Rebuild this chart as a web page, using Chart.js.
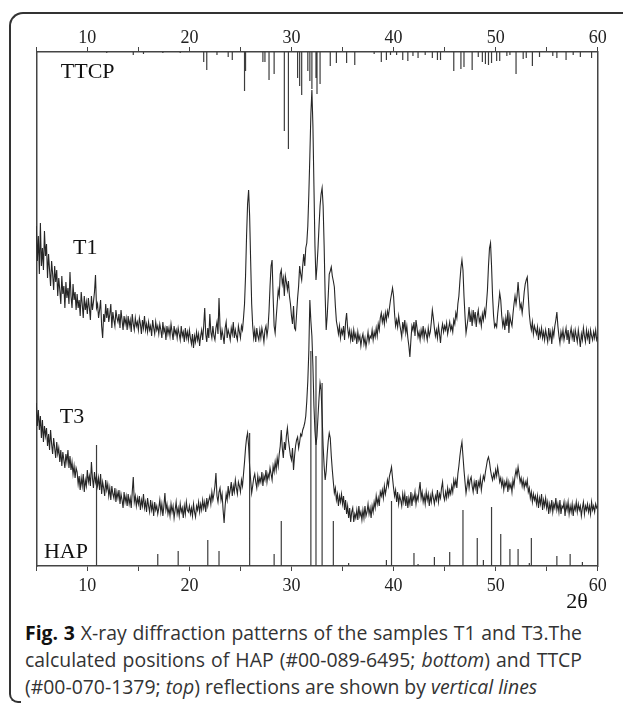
<!DOCTYPE html>
<html>
<head>
<meta charset="utf-8">
<script src="https://cdn.jsdelivr.net/npm/chart.js@4.4.1/dist/chart.umd.min.js"></script>
<style>
  html, body { margin: 0; padding: 0; background: #fff; width: 623px; height: 705px; overflow: hidden; }
  #wrap { position: relative; width: 623px; height: 705px; }
  #c { position: absolute; left: 0; top: 0; }
  #frame { position: absolute; left: 9px; top: 12px; width: 660px; height: 680px;
           border-top: 2px solid #333; border-left: 2px solid #333; border-top-left-radius: 14px; }
  #frameBottom { position: absolute; left: 9px; top: 680px; width: 10px; height: 21px;
           border-left: 2px solid #333; border-bottom: 2px solid #333; border-bottom-left-radius: 9px; }
  #cap { position: absolute; left: 25px; top: 619px; width: 557px; font-family: "Open Sans", sans-serif;
         font-size: 19.4px; line-height: 27px; color: #333; }
  #cap div { white-space: nowrap; }
  #cap .j { text-align: justify; text-align-last: justify; }
  #cap b { color: #111; }
</style>
</head>
<body>
<div id="wrap">
  <div id="frame"></div>
  <div id="frameBottom"></div>
  <canvas id="c" width="623" height="615"></canvas>
  <div id="cap">
    <div class="j"><b>Fig. 3</b> X-ray diffraction patterns of the samples T1 and T3.The</div>
    <div class="j">calculated positions of HAP (#00-089-6495; <i>bottom</i>) and TTCP</div>
    <div>(#00-070-1379; <i>top</i>) reflections are shown by <i>vertical lines</i></div>
  </div>
</div>
<script>
// 2θ sampling positions (degrees)
const twoTheta = [
  5,5.1,5.2,5.3,5.4,5.5,5.6,5.7,5.8,5.9, 6,6.1,6.2,6.3,6.4,6.5,6.6,6.7,6.8,6.9,
  7,7.1,7.2,7.3,7.4,7.5,7.6,7.7,7.8,7.9, 8,8.1,8.2,8.3,8.4,8.5,8.6,8.7,8.8,8.9,
  9,9.1,9.2,9.3,9.4,9.5,9.6,9.7,9.8,9.9, 10,10.1,10.2,10.3,10.4,10.5,10.6,10.7,10.8,10.9,
  11,11.1,11.2,11.3,11.4,11.5,11.6,11.7,11.8,11.9, 12,12.1,12.2,12.3,12.4,12.5,12.6,12.7,12.8,12.9,
  13,13.1,13.2,13.3,13.4,13.5,13.6,13.7,13.8,13.9, 14,14.1,14.2,14.3,14.4,14.5,14.6,14.7,14.8,14.9,
  15,15.1,15.2,15.3,15.4,15.5,15.6,15.7,15.8,15.9, 16,16.1,16.2,16.3,16.4,16.5,16.6,16.7,16.8,16.9,
  17,17.1,17.2,17.3,17.4,17.5,17.6,17.7,17.8,17.9, 18,18.1,18.2,18.3,18.4,18.5,18.6,18.7,18.8,18.9,
  19,19.1,19.2,19.3,19.4,19.5,19.6,19.7,19.8,19.9, 20,20.1,20.2,20.3,20.4,20.5,20.6,20.7,20.8,20.9,
  21,21.1,21.2,21.3,21.4,21.5,21.6,21.7,21.8,21.9, 22,22.1,22.2,22.3,22.4,22.5,22.6,22.7,22.8,22.9,
  23,23.1,23.2,23.3,23.4,23.5,23.6,23.7,23.8,23.9, 24,24.1,24.2,24.3,24.4,24.5,24.6,24.7,24.8,24.9,
  25,25.1,25.2,25.3,25.4,25.5,25.6,25.7,25.8,25.9, 26,26.1,26.2,26.3,26.4,26.5,26.6,26.7,26.8,26.9,
  27,27.1,27.2,27.3,27.4,27.5,27.6,27.7,27.8,27.9, 28,28.1,28.2,28.3,28.4,28.5,28.6,28.7,28.8,28.9,
  29,29.1,29.2,29.3,29.4,29.5,29.6,29.7,29.8,29.9, 30,30.1,30.2,30.3,30.4,30.5,30.6,30.7,30.8,30.9,
  31,31.1,31.2,31.3,31.4,31.5,31.6,31.7,31.8,31.9, 32,32.1,32.2,32.3,32.4,32.5,32.6,32.7,32.8,32.9,
  33,33.1,33.2,33.3,33.4,33.5,33.6,33.7,33.8,33.9, 34,34.1,34.2,34.3,34.4,34.5,34.6,34.7,34.8,34.9,
  35,35.1,35.2,35.3,35.4,35.5,35.6,35.7,35.8,35.9, 36,36.1,36.2,36.3,36.4,36.5,36.6,36.7,36.8,36.9,
  37,37.1,37.2,37.3,37.4,37.5,37.6,37.7,37.8,37.9, 38,38.1,38.2,38.3,38.4,38.5,38.6,38.7,38.8,38.9,
  39,39.1,39.2,39.3,39.4,39.5,39.6,39.7,39.8,39.9, 40,40.1,40.2,40.3,40.4,40.5,40.6,40.7,40.8,40.9,
  41,41.1,41.2,41.3,41.4,41.5,41.6,41.7,41.8,41.9, 42,42.1,42.2,42.3,42.4,42.5,42.6,42.7,42.8,42.9,
  43,43.1,43.2,43.3,43.4,43.5,43.6,43.7,43.8,43.9, 44,44.1,44.2,44.3,44.4,44.5,44.6,44.7,44.8,44.9,
  45,45.1,45.2,45.3,45.4,45.5,45.6,45.7,45.8,45.9, 46,46.1,46.2,46.3,46.4,46.5,46.6,46.7,46.8,46.9,
  47,47.1,47.2,47.3,47.4,47.5,47.6,47.7,47.8,47.9, 48,48.1,48.2,48.3,48.4,48.5,48.6,48.7,48.8,48.9,
  49,49.1,49.2,49.3,49.4,49.5,49.6,49.7,49.8,49.9, 50,50.1,50.2,50.3,50.4,50.5,50.6,50.7,50.8,50.9,
  51,51.1,51.2,51.3,51.4,51.5,51.6,51.7,51.8,51.9, 52,52.1,52.2,52.3,52.4,52.5,52.6,52.7,52.8,52.9,
  53,53.1,53.2,53.3,53.4,53.5,53.6,53.7,53.8,53.9, 54,54.1,54.2,54.3,54.4,54.5,54.6,54.7,54.8,54.9,
  55,55.1,55.2,55.3,55.4,55.5,55.6,55.7,55.8,55.9, 56,56.1,56.2,56.3,56.4,56.5,56.6,56.7,56.8,56.9,
  57,57.1,57.2,57.3,57.4,57.5,57.6,57.7,57.8,57.9, 58,58.1,58.2,58.3,58.4,58.5,58.6,58.7,58.8,58.9,
  59,59.1,59.2,59.3,59.4,59.5,59.6,59.7,59.8,59.9, 60
];

// Intensity of sample T1 (arbitrary units, includes vertical offset)
const t1Intensity = [
  340,305,330,292,343,300,318,296,335,310, 322,288,312,296,280,305,292,276,300,284,
  296,270,288,276,262,290,272,280,258,284, 268,278,262,294,270,258,282,266,274,256,
  272,258,266,250,274,262,248,270,256,264, 252,268,258,246,270,256,264,274,291,258,
  262,248,256,266,240,228,252,244,262,248, 258,244,252,262,238,254,246,240,256,248,
  244,252,238,256,246,236,250,242,248,236, 250,240,246,234,252,242,236,248,240,244,
  236,248,242,232,246,238,250,236,242,234, 244,236,240,230,246,238,232,244,236,240,
  232,242,236,228,244,234,238,226,240,232, 238,230,242,234,226,240,232,236,228,238,
  232,226,240,230,234,224,238,228,234,226, 236,228,222,232,218,230,224,234,226,232,
  220,230,236,226,240,258,232,224,238,228, 252,234,228,240,230,226,238,244,232,268,
  240,226,236,230,222,238,244,228,236,232, 226,238,232,244,228,236,230,226,240,234,
  228,240,236,248,262,290,330,362,376,350, 305,262,240,228,236,224,238,230,226,236,
  228,238,232,224,236,240,230,238,255,280, 300,306,270,240,233,248,262,276,270,292,
  296,282,288,270,290,284,276,285,270,262, 250,242,260,238,236,252,268,280,300,292,
  286,300,312,300,318,323,340,372,410,452, 476,440,380,320,286,300,318,340,360,372,
  378,360,320,270,236,250,270,292,295,299, 290,285,279,260,245,239,232,240,228,236,
  232,240,226,244,253,238,230,236,226,234, 224,236,228,232,222,234,226,230,220,228,
  232,222,228,219,226,234,224,230,228,236, 226,234,229,238,230,242,236,248,253,244,
  250,242,253,246,255,250,258,266,272,278, 270,252,240,246,239,250,242,236,229,244,
  236,246,233,240,228,220,209,226,240,236, 244,230,246,238,229,234,226,236,230,240,
  228,236,232,226,238,230,234,244,256,248, 238,230,236,228,240,232,223,236,242,234,
  240,236,243,232,238,244,236,240,234,246, 242,253,248,262,270,285,298,306,296,270,
  250,233,240,248,259,244,252,240,256,246, 254,239,250,256,244,248,240,252,246,256,
  250,262,276,300,318,323,300,270,250,239, 242,239,252,262,273,266,250,240,246,236,
  248,240,256,233,250,244,240,252,262,270, 262,270,284,270,258,262,253,262,274,282,
  286,289,270,252,242,236,244,232,240,236, 232,239,226,236,230,238,228,234,226,236,
  230,224,238,228,234,222,236,230,240,246, 254,240,230,223,234,228,236,226,232,238,
  226,236,222,232,238,228,234,224,236,230, 224,236,228,219,232,226,238,230,224,236,
  228,234,222,236,230,226,234,228,236,226, 229
];

// Intensity of sample T3 (arbitrary units)
const t3Intensity = [
  163,140,156,136,150,128,146,124,140,130, 138,120,132,116,136,122,112,128,118,108,
  124,112,118,104,116,100,114,106,98,112, 104,116,98,110,96,104,92,100,88,98,
  94,82,90,76,88,80,92,74,86,80, 96,84,90,80,104,88,78,94,84,90,
  80,88,76,92,72,84,78,70,86,76, 82,70,78,66,80,72,68,78,64,74,
  68,76,62,72,66,58,74,64,70,60, 72,62,68,58,74,89,64,70,60,68,
  62,70,56,66,60,72,58,64,54,68, 60,54,66,56,62,50,64,56,60,52,
  58,66,54,62,50,60,73,56,62,52, 58,50,62,54,60,48,56,64,52,58,
  50,62,54,58,48,60,52,64,56,54, 60,52,58,50,62,54,49,60,56,64,
  54,62,56,66,58,64,54,68,60,66, 70,62,74,66,72,80,93,70,64,74,
  78,66,72,56,43,60,72,66,80,70, 76,84,70,80,74,86,78,72,84,80,
  74,86,80,92,104,118,128,133,120,100, 86,73,80,88,92,84,78,90,82,88,
  84,94,80,90,86,96,84,92,88,98, 92,86,100,94,104,96,108,100,112,120,
  136,118,108,124,116,130,138,126,118,110, 106,118,96,110,120,126,129,118,124,132,
  130,136,139,143,150,165,185,215,266,245, 230,200,160,135,121,130,150,168,183,176,
  150,120,100,86,95,112,125,133,128,110, 96,84,73,78,66,72,60,70,64,72,
  62,70,56,66,52,60,48,58,44,54, 58,44,52,48,56,46,60,50,54,46,
  56,48,60,50,54,62,52,58,48,60, 54,64,58,70,62,68,60,74,70,76,
  68,80,72,78,86,80,90,94,99,88, 78,70,76,64,74,62,70,66,60,72,
  64,72,60,70,58,68,62,74,60,70, 66,74,62,70,66,76,84,68,74,64,
  70,62,74,66,72,60,70,64,74,68, 62,70,66,76,64,72,68,78,84,70,
  66,74,68,78,70,76,72,80,74,86, 80,86,78,92,100,110,118,124,110,96,
  84,73,80,88,78,86,89,80,74,84, 78,86,72,84,80,88,76,84,90,86,
  94,100,106,109,104,96,90,86,92,88, 96,90,99,92,84,88,80,86,76,84,
  80,86,74,84,78,82,74,86,80,90, 96,90,99,92,84,88,80,86,78,84,
  80,86,74,78,68,74,64,72,66,70, 62,70,58,68,62,72,56,66,60,68,
  58,64,52,62,56,66,54,62,58,68, 56,62,54,66,52,60,58,64,50,62,
  56,64,52,60,54,62,50,60,56,64, 54,62,56,60,50,58,64,52,60,56,
  62,54,60,52,64,56,60,54,62,58, 60
];

// HAP reference reflections (#00-089-6495): positions and heights
const hapPositions = [10.9,16.9,18.9,21.8,22.9,25.9,28.3,29.0,31.9,32.4,33.0,34.1,35.6,39.3,39.8,42.0,42.4,44.0,45.5,46.8,48.2,48.8,49.6,50.5,51.4,52.2,53.3,53.5,56.0,57.3,58.5];
const hapHeights   = [121,12,15,26,15,133,12,45,215,210,183,45,3,6,65,13,2,9,14,56,28,6,59,32,17,17,3,28,10,12,4];

// TTCP reference reflections (#00-070-1379): positions and heights (drawn down from the top)
const ttcpPositions = [11.9,14.5,15.5,17.4,19.1,21.4,21.7,22.7,23.8,24.2,25.4,25.5,27.2,27.4,27.8,28.3,29.3,29.7,30.6,30.8,31.0,31.6,31.8,32.0,32.4,32.5,32.8,33.8,34.4,35.4,36.2,38.1,38.8,39.3,39.7,40.3,40.9,41.4,41.9,42.4,43.1,43.8,44.3,44.6,45.9,46.6,46.9,47.7,48.3,48.7,49.0,49.3,49.6,50.1,50.4,51.1,51.4,52.0,52.7,53.0,53.6,54.3,55.6,56.0,56.9,57.6,58.3,59.4];
const ttcpHeights   = [1,3,2,1,1,10,18,3,5,8,39,19,10,10,28,22,79,97,26,34,43,19,29,37,26,42,32,14,11,11,13,2,10,8,3,3,8,9,4,6,3,6,8,8,19,17,15,18,5,10,12,13,11,9,9,4,3,22,7,6,14,5,4,6,8,3,5,6];

// Axis ranges and tick labels
const xMin = 5, xMax = 60, xTickStep = 5;
const xTickLabels = [10, 20, 30, 40, 50, 60];
const yMin = 0, yMax = 514;

// Series labels placed in data coordinates
const seriesLabels = [
  { text: 'TTCP', x: 7.4, y: 488 },
  { text: 'T1',   x: 8.6, y: 312 },
  { text: 'T3',   x: 7.3, y: 143 },
  { text: 'HAP',  x: 5.75, y: 8 }
];

function stickData(pos, h, fromTop) {
  const out = [];
  pos.forEach((p, i) => {
    if (fromTop) {
      out.push({ x: p, y: yMax }, { x: p, y: yMax - h[i] }, { x: p, y: null });
    } else {
      out.push({ x: p, y: yMin }, { x: p, y: yMin + h[i] }, { x: p, y: null });
    }
  });
  return out;
}

const serif = '"Liberation Serif", "Times New Roman", serif';
const lineColor = '#262626';
const stickColor = '#3c3c3c';
const axisColor = '#444';

const labelPlugin = {
  id: 'seriesLabels',
  afterDatasetsDraw(chart) {
    const { ctx, chartArea } = chart;
    const xs = chart.scales.x, ys = chart.scales.y;
    ctx.save();
    ctx.fillStyle = '#111';
    ctx.font = '22px ' + serif;
    ctx.textBaseline = 'alphabetic';
    ctx.textAlign = 'left';
    seriesLabels.forEach(l => ctx.fillText(l.text, xs.getPixelForValue(l.x), ys.getPixelForValue(l.y)));
    ctx.textAlign = 'right';
    ctx.fillText('2\u03B8', chartArea.right - 10, chartArea.bottom + 42);
    ctx.restore();
  }
};

function xAxis(position) {
  return {
    type: 'linear', position, min: xMin, max: xMax,
    afterBuildTicks: s => { s.ticks = []; for (let v = xMin; v <= xMax; v += xTickStep) s.ticks.push({ value: v }); },
    afterFit: s => { s.height = 40; },
    grid: { display: true, drawOnChartArea: false, drawTicks: true, tickLength: 5, color: axisColor, lineWidth: 1 },
    border: { display: true, color: axisColor, width: 1.5 },
    ticks: {
      autoSkip: false, maxRotation: 0, color: '#222',
      padding: position === 'top' ? 0 : 6,
      font: { family: serif, size: 18, lineHeight: 1 },
      callback: v => xTickLabels.includes(v) ? String(v) : ''
    }
  };
}
function yAxis(position) {
  return {
    type: 'linear', position, min: yMin, max: yMax,
    afterFit: s => { s.width = 0; },
    grid: { display: false, drawTicks: false },
    border: { display: true, color: axisColor, width: 1.5 },
    ticks: { display: false }
  };
}

new Chart(document.getElementById('c'), {
  type: 'line',
  data: {
    labels: twoTheta,
    datasets: [
      { label: 'T1', data: t1Intensity, borderColor: lineColor, borderWidth: 1.1, pointRadius: 0, tension: 0, xAxisID: 'x', yAxisID: 'y' },
      { label: 'T3', data: t3Intensity, borderColor: lineColor, borderWidth: 1.1, pointRadius: 0, tension: 0, xAxisID: 'x', yAxisID: 'y' },
      { label: 'HAP', data: stickData(hapPositions, hapHeights, false), borderColor: stickColor, borderWidth: 1.2, pointRadius: 0, spanGaps: false, xAxisID: 'x', yAxisID: 'y' },
      { label: 'TTCP', data: stickData(ttcpPositions, ttcpHeights, true), borderColor: stickColor, borderWidth: 1.2, pointRadius: 0, spanGaps: false, xAxisID: 'x', yAxisID: 'y' }
    ]
  },
  options: {
    responsive: false,
    animation: false,
    devicePixelRatio: 1,
    layout: { padding: { left: 36.3, right: 25.3, top: 12, bottom: 9 } },
    plugins: { legend: { display: false }, tooltip: { enabled: false } },
    scales: {
      x: xAxis('bottom'),
      x2: xAxis('top'),
      y: yAxis('left'),
      y2: yAxis('right')
    }
  },
  plugins: [labelPlugin]
});
</script>
</body>
</html>
